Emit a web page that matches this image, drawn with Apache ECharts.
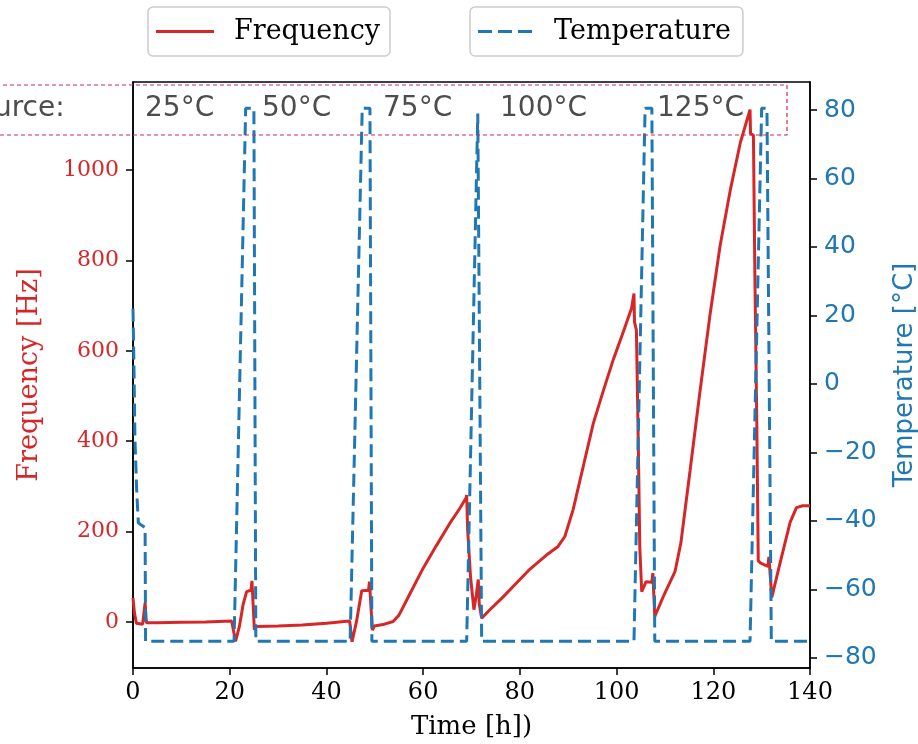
<!DOCTYPE html>
<html>
<head>
<meta charset="utf-8">
<script src="https://cdn.jsdelivr.net/npm/echarts@6/dist/echarts.min.js"></script>
<style>
html,body{margin:0;padding:0;background:#fff;}
#chart{width:918px;height:744px;}
</style>
</head>
<body>
<div id="chart"></div>
<script>
// ---- data ----
const freqTime = [0,0.3,0.7,1.1,2.0,2.4,2.5,2.7,2.8,5,10,15,20.4,20.6,21.2,22.0,22.8,23.5,24.4,24.6,25.1,25.4,30,35,40,44.8,45.3,46.2,47.3,48.7,48.9,49.5,49.9,52,53.8,55,57.3,60,62.8,65.5,67.5,68.9,69.0,69.2,69.8,70.5,71.0,71.4,71.6,72.1,73.8,76.6,79.3,82.1,85.5,87.9,89.3,91.0,93.1,95.2,97.3,99.3,101.4,103.1,103.6,103.7,104.1,104.5,104.8,105.2,105.5,106.1,107.3,107.5,107.9,109.7,112.1,113.3,115.2,117.2,119.3,121.4,123.5,125.6,127.6,127.7,128.3,128.6,129.0,129.3,129.8,131.3,131.5,132.1,133.8,135.9,137.2,138.5,140];
const freqValues = [53,20,-3,-7,-5,-3,42,10,-2,-2,-1,0,2,0,-43,-10,40,67,70,91,-18,-10,-9,-7,-3,2,-44,0,69,70,89,-18,-9,-5,1,15,63,119,170,218,250,275,281,204,100,27,60,94,40,8,27,56,86,117,148,167,189,248,344,440,513,580,642,694,727,664,646,388,167,67,63,89,88,108,12,57,112,175,335,506,678,832,955,1061,1134,1081,1077,767,441,135,130,123,144,54,130,221,253,257,257];

const tempTime = [0,0.2,0.4,0.76,1.1,2.5,2.6,20.9,23.3,25.0,25.4,44.9,47.4,49.0,49.4,69.0,71.3,72.1,103.6,105.9,107.3,107.9,127.6,130.0,131.1,132.0,140];
const tempValues = [22,5,-16,-31,-40.6,-42,-75.2,-75.2,80.5,80.5,-75.2,-75.2,80.5,80.5,-75.2,-75.2,79,-75.2,-75.2,80.5,80.5,-75.2,-75.2,80.5,80.5,-75.2,-75.2];

const xTicks = {min: 0, max: 140, step: 20};
const sourceLabels = ['Source:', '25°C', '50°C', '75°C', '100°C', '125°C'];
const seriesNames = ['Frequency', 'Temperature'];
const axisTitles = {x: 'Time [h])', left: 'Frequency [Hz]', right: 'Temperature [°C]'};

const RED = '#d62728', BLUE = '#1f77b4';
const SERIF = '"DejaVu Serif", serif';
const SANS = '"DejaVu Sans", sans-serif';

const freqData = freqTime.map((t, i) => [t, freqValues[i]]);
const tempData = tempTime.map((t, i) => [t, tempValues[i]]);

const chart = echarts.init(document.getElementById('chart'), null, {renderer: 'canvas'});

const sourceX = [-41, 145, 262, 383, 500, 657];
const legendCommon = {
  orient: 'horizontal', top: 7, itemWidth: 58, itemHeight: 3,
  borderColor: '#cccccc', borderWidth: 1.5, borderRadius: 5,
  textStyle: {fontFamily: SERIF, fontSize: 27, color: '#000', padding: [0, 0, 0, 15]}
};

chart.setOption({
  animation: false,
  backgroundColor: '#fff',
  grid: {left: 133, right: 108, top: 82, bottom: 76, containLabel: false, outerBoundsMode: 'none',
         show: true, borderColor: '#000', borderWidth: 1.5, backgroundColor: 'transparent'},
  legend: [
    Object.assign({}, legendCommon, {data: [{name: seriesNames[0], icon: 'path://M0,0H58V3H0Z'}], left: 148, padding: [11, 10, 11, 8]}),
    Object.assign({}, legendCommon, {data: [{name: seriesNames[1], icon: 'path://M0,0H14V3H0Z M20,0H34V3H20Z M40,0H54V3H40Z'}], left: 470, padding: [11, 12, 11, 8]})
  ],
  xAxis: {
    type: 'value', min: xTicks.min, max: xTicks.max, interval: xTicks.step,
    name: axisTitles.x, nameLocation: 'middle', nameGap: 46,
    nameTextStyle: {fontFamily: SERIF, fontSize: 26, color: '#000', verticalAlign: 'top'},
    axisLine: {show: true, onZero: false, lineStyle: {color: '#000', width: 1.5}},
    axisTick: {show: true, inside: false, length: 7, lineStyle: {color: '#000', width: 1.5}},
    axisLabel: {fontFamily: SERIF, fontSize: 24, color: '#000', margin: 13},
    splitLine: {show: false}
  },
  yAxis: [
    {type: 'value', position: 'left', min: -102, max: 1195, splitNumber: 6,
     name: axisTitles.left, nameLocation: 'middle', nameGap: 90, nameRotate: 90,
     nameTextStyle: {fontFamily: SERIF, fontSize: 27, color: RED},
     axisLine: {show: true, lineStyle: {color: '#000', width: 1.5}},
     axisTick: {show: true, inside: false, length: 7, lineStyle: {color: '#000', width: 1.5}},
     axisLabel: {fontFamily: SERIF, fontSize: 22, color: RED, margin: 14, showMinLabel: false, showMaxLabel: false,
       formatter: v => String(v)},
     splitLine: {show: false}},
    {type: 'value', position: 'right', min: -83, max: 88.2, splitNumber: 8,
     name: axisTitles.right, nameLocation: 'middle', nameGap: 82, nameRotate: 90,
     nameTextStyle: {fontFamily: SANS, fontSize: 26, color: BLUE},
     axisLine: {show: true, lineStyle: {color: '#000', width: 1.5}},
     axisTick: {show: true, inside: false, length: 7, lineStyle: {color: '#000', width: 1.5}},
     axisLabel: {fontFamily: SANS, fontSize: 25, color: BLUE, margin: 14, showMinLabel: false, showMaxLabel: false,
       formatter: v => (v < 0 ? '\u2212' + Math.abs(v) : String(v))},
     splitLine: {show: false}}
  ],
  series: [
    {name: seriesNames[0], type: 'line', yAxisIndex: 0, data: freqData, showSymbol: false, symbol: 'none',
     lineStyle: {color: RED, width: 3}, itemStyle: {color: RED}, z: 2},
    {name: seriesNames[1], type: 'line', yAxisIndex: 1, data: tempData, showSymbol: false, symbol: 'none',
     lineStyle: {color: BLUE, width: 3, type: [13, 6]}, itemStyle: {color: BLUE}, z: 3}
  ],
  graphic: [
    {type: 'rect', z: 10, silent: true, shape: {x: -200, y: 85, width: 987, height: 50},
     style: {fill: 'none', stroke: '#d62750', lineWidth: 1.2, lineDash: [4, 3]}}
  ].concat(sourceLabels.map((s, i) => ({
    type: 'text', z: 11, silent: true, x: sourceX[i], y: 109,
    style: {text: s, font: '28px ' + SANS, fill: '#4d4d4d', textAlign: 'left', textVerticalAlign: 'middle', verticalAlign: 'middle'}
  })))
});
</script>
</body>
</html>
